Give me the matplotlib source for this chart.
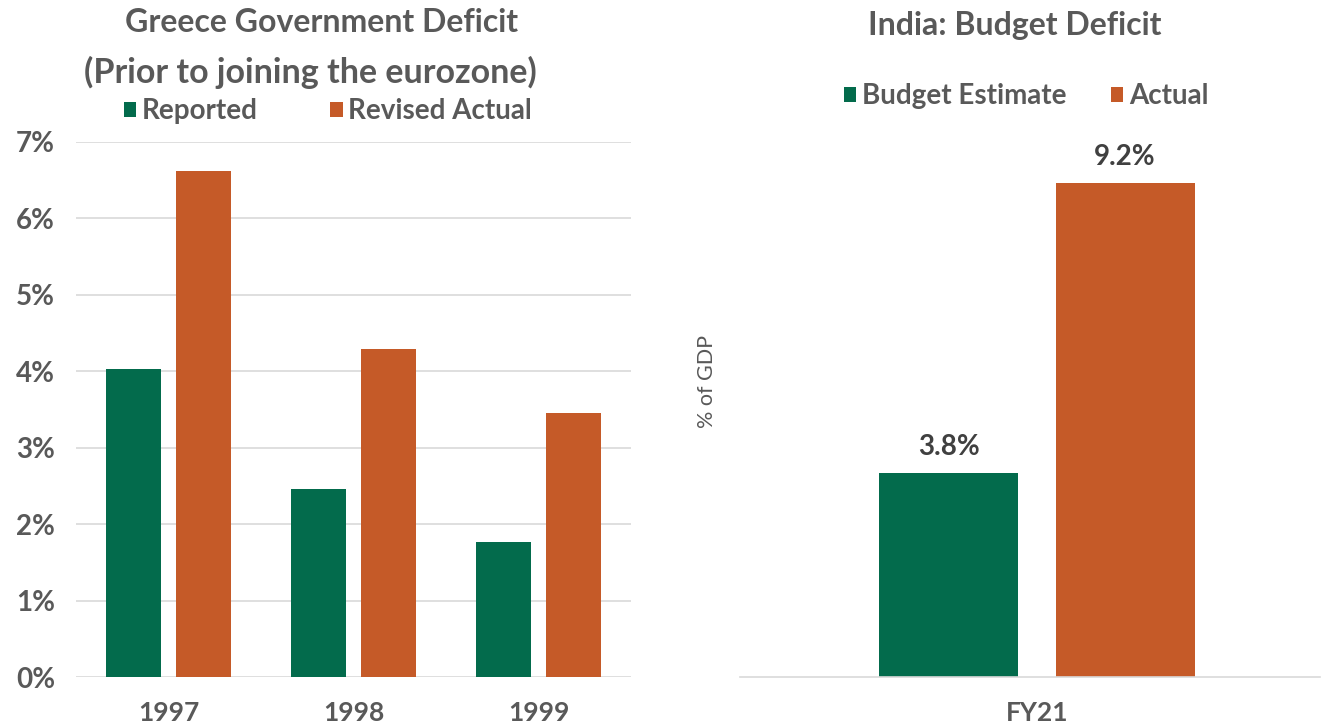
import numpy as np
import matplotlib.pyplot as plt
from matplotlib.ticker import FuncFormatter

# Greece: deficit as % of GDP, reported vs revised
years = ['1997', '1998', '1999']
reported = [4.03, 2.46, 1.77]
revised = [6.62, 4.29, 3.46]

# India FY21 budget deficit
india_cat = ['FY21']
india_est = [3.8]
india_act = [9.2]
india_est_lbl = ['3.8%']
india_act_lbl = ['9.2%']

green = '#036B4C'
orange = '#C55A28'
txt = '#595959'
grid_c = '#D9D9D9'

plt.rcParams['font.family'] = ['Lato', 'DejaVu Sans']
plt.rcParams['font.weight'] = 'bold'

W, H = 1327, 728
fig = plt.figure(figsize=(W / 100, H / 100), dpi=100)

# ---- left: Greece
ax1 = fig.add_axes([76 / W, 1 - 677 / H, 555 / W, 535 / H])
x = np.arange(len(years))
bw = 0.30
off = 0.19
b1 = ax1.bar(x - off, reported, bw, color=green, label='Reported')
b2 = ax1.bar(x + off, revised, bw, color=orange, label='Revised Actual')
ax1.set_xlim(-0.5, 2.5)
ax1.set_ylim(0, 7)
ax1.set_yticks(range(0, 8))
ax1.yaxis.set_major_formatter(FuncFormatter(lambda v, p: '%d%%' % v))
ax1.set_xticks(x)
ax1.set_xticklabels(years)
ax1.grid(axis='y', color=grid_c, lw=1.2)
ax1.set_axisbelow(True)
for s in ax1.spines.values():
    s.set_visible(False)
ax1.tick_params(axis='y', length=0, pad=15, labelsize=20, labelcolor=txt)
ax1.tick_params(axis='x', length=0, pad=17, labelsize=19, labelcolor=txt)

fig.text(322 / W, 1 - 22 / H, 'Greece Government Deficit', ha='center', va='center',
         fontsize=23, color=txt)
fig.text(310 / W, 1 - 72 / H, '(Prior to joining the eurozone)', ha='center', va='center',
         fontsize=24.5, color=txt)
ax1.legend(loc='center', bbox_to_anchor=(328 / W, 1 - 111 / H), bbox_transform=fig.transFigure,
           ncol=2, frameon=False, fontsize=20, labelcolor=txt, handlelength=0.45,
           handleheight=0.45, handletextpad=0.2, columnspacing=2.6)

# ---- right: India
ax2 = fig.add_axes([740 / W, 1 - 677 / H, 580 / W, 537 / H])
xi = np.arange(len(india_cat))
bw2 = 0.24
off2 = 0.152
r1 = ax2.bar(xi - off2, india_est, bw2, color=green, label='Budget Estimate')
r2 = ax2.bar(xi + off2, india_act, bw2, color=orange, label='Actual')
ax2.set_xlim(-0.512, 0.488)
ax2.set_ylim(0, 10)
ax2.set_yticks([])
ax2.set_xticks(xi)
ax2.set_xticklabels(india_cat)
for s in ['top', 'right', 'left']:
    ax2.spines[s].set_visible(False)
ax2.spines['bottom'].set_color(grid_c)
ax2.spines['bottom'].set_linewidth(1.2)
ax2.tick_params(axis='x', length=0, pad=17, labelsize=19, labelcolor=txt)
ax2.bar_label(r1, labels=india_est_lbl, padding=9, fontsize=20, color='#404040')
ax2.bar_label(r2, labels=india_act_lbl, padding=9, fontsize=20, color='#404040')
ax2.set_ylabel('% of GDP', fontsize=15.5, color=txt)
ax2.yaxis.set_label_coords(-0.04, 0.55)

fig.text(1015 / W, 1 - 26 / H, 'India: Budget Deficit', ha='center', va='center',
         fontsize=23, color=txt)
ax2.legend(loc='center', bbox_to_anchor=(1026 / W, 1 - 96 / H), bbox_transform=fig.transFigure,
           ncol=2, frameon=False, fontsize=20, labelcolor=txt, handlelength=0.45,
           handleheight=0.45, handletextpad=0.2, columnspacing=1.6)

fig.savefig('out.png', dpi=100)
